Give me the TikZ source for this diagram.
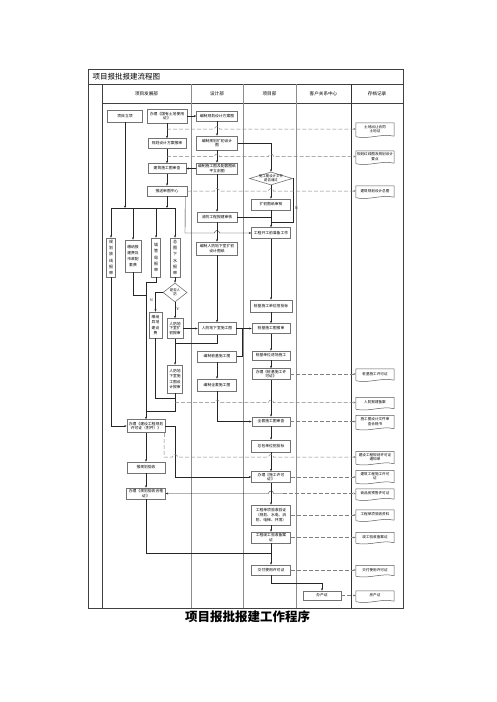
\documentclass[tikz,border=0pt]{standalone}
\usepackage{fontspec}
\newfontfamily\cjk{Noto Sans CJK SC}
\usetikzlibrary{arrows.meta,shapes.geometric}

\begin{document}
\begin{tikzpicture}[x=1pt,y=-1pt,
	box/.style={draw=black!55,line width=0.6pt,fill=white,font=\cjk\fontsize{3.8}{4.6}\selectfont,align=center,inner sep=0.4pt,minimum width=38,minimum height=10},
	vbox/.style={box,minimum width=9,minimum height=39,font=\cjk\fontsize{4}{6.2}\selectfont},
	doc/.style={font=\cjk\fontsize{3.6}{4.4}\selectfont,align=center,inner sep=0.4pt,minimum width=38,minimum height=10},
	docline/.style={draw=black!65,line width=0.5pt},
	diam/.style={diamond,draw=black!55,line width=0.6pt,fill=white,inner sep=0pt,minimum width=43,minimum height=13},
	head/.style={font=\cjk\fontsize{4.6}{5}\selectfont},
	lab/.style={font=\fontsize{3.6}{4}\selectfont,inner sep=0.5pt},
	flow/.style={draw=black!85,line width=0.4pt,-{Stealth[length=2.4pt,width=2pt]}},
	link/.style={draw=black!85,line width=0.4pt},
	rec/.style={draw=black!50,line width=0.5pt,dash pattern=on 4pt off 2pt,-{Stealth[length=2.4pt,width=2pt]}},
	lane/.style={draw=black!45,line width=0.7pt}]
		\useasboundingbox (0,0) rectangle (496,702);
		
		\draw[black!75,line width=0.6pt] (88,69) rectangle (403,608);
		\draw[black!75,line width=0.5pt] (88,84) -- (403,84);
		\draw[black!75,line width=0.5pt] (102,103) -- (403,103);
		\draw[black!75,line width=0.5pt] (102,84) -- (102,608);
		\draw[lane] (191,84) -- (191,608);
		\draw[lane] (243,84) -- (243,608);
		\draw[lane] (296,84) -- (296,608);
		\draw[black!80,line width=0.6pt] (351,84) -- (351,608);
		
		\node[anchor=west,font=\cjk\fontsize{7.5}{8}\selectfont] at (89,76.5) (title) {项目报批报建流程图};
		\node[head] at (146.5,94) (h1) {项目发展部};
		\node[head] at (217,94) (h2) {设计部};
		\node[head] at (269.5,94) (h3) {项目部};
		\node[head] at (323.5,94) (h4) {客户关系中心};
		\node[head] at (377,94) (h5) {存档记录};
		\node[font=\cjk\bfseries\fontsize{12.5}{13}\selectfont] at (247.5,617) (caption) {项目报批报建工作程序};
		
		\node[box,minimum width=35,minimum height=12] at (125,116) (p1) {项目立项};
		\node[box,minimum width=40,minimum height=14] at (167,116) (p2) {办理《国有土地使用\\证》};
		\node[box] at (167,143.5) (p3) {规划设计方案报审};
		\node[box] at (167,168.5) (p4) {建筑施工图审查};
		\node[box,minimum width=40] at (167,191) (p5) {报送审图中心};
		\node[box,minimum height=13] at (146,426) (p6) {办理《建设工程规划\\许可证（附件）》};
		\node[box,minimum height=11] at (146,467.5) (p7) {报规划验收};
		\node[box,minimum width=39,minimum height=11] at (146,493.5) (p8) {办理《规划验收合格\\证》};
		
		\node[vbox] at (111,257.5) (v1) {规\\划\\放\\线\\报\\审};
		\node[vbox,minimum width=16,minimum height=32,font=\cjk\fontsize{3.8}{5.8}\selectfont] at (133,256) (v2) {缴纳报\\建费及\\市政配\\套费};
		\node[vbox] at (156,257.5) (v3) {城\\管\\局\\报\\审};
		\node[vbox,minimum width=10] at (175,257.5) (v4) {总\\图\\下\\水\\报\\审};
		\node[diam,minimum width=24,minimum height=19] at (175,292.5) (q2) {};
		\node[lab,font=\cjk\fontsize{3.4}{4}\selectfont,align=center] at (q2) (q2t) {是否人\\防};
		\node[box,minimum width=13,minimum height=26,font=\cjk\fontsize{3.8}{5.6}\selectfont] at (155.5,325) (l1) {缴纳\\异地\\建设\\费};
		\node[box,minimum width=16,minimum height=20] at (175,328.5) (l2) {人防地\\下室扩\\初报审};
		\node[box,minimum width=15,minimum height=28,font=\cjk\fontsize{3.8}{5.4}\selectfont] at (175,379) (l3) {人防地\\下室施\\工图设\\计报审};
		
		\node[box,minimum width=41] at (217,116) (d1) {编制规划设计方案图};
		\node[box,minimum width=41,minimum height=14] at (217,143) (d2) {编制规划扩初设计\\图};
		\node[box,minimum width=41,minimum height=11] at (217,168.5) (d3) {编制施工图及配套图纸\\平立剖图};
		\node[box,minimum width=40] at (217,217) (d4) {消防工程报建审核};
		\node[box,minimum width=41,minimum height=13] at (217,248.5) (d5) {编制人防地下室扩初\\设计图纸};
		\node[box,minimum height=12] at (217,328.5) (d6) {人防地下室施工图};
		\node[box,minimum width=39,minimum height=11] at (217,356.5) (d7) {编制桩基施工图};
		\node[box,minimum width=39,minimum height=12] at (217,385) (d8) {编制全套施工图};
		
		\node[diam] at (271,178.5) (q1) {};
		\node[lab,font=\cjk\fontsize{3.4}{4.2}\selectfont,align=center] at (q1) (q1t) {施工图设计文件\\是否通过};
		\node[box,minimum width=39,minimum height=11] at (271,204.5) (j1) {扩初图纸审核};
		\node[box,minimum width=39,minimum height=11] at (271,233) (j2) {工程开工前准备工作};
		\node[box,minimum width=42,minimum height=12] at (271,306) (j3) {桩基施工单位招投标};
		\node[box] at (271,328.5) (j4) {桩基施工图报审};
		\node[box,minimum height=9] at (271,355.5) (j5) {桩基单位进场施工};
		\node[box,minimum height=11] at (271,374) (j6) {办理《桩基施工许\\可证》};
		\node[box,minimum height=9] at (271,421.5) (j7) {全套施工图审查};
		\node[box,minimum width=39,minimum height=12] at (271,446) (j8) {总包单位招投标};
		\node[box,minimum width=39,minimum height=11] at (271,477) (j9) {办理《施工许可\\证》};
		\node[box,minimum width=39,minimum height=20] at (271,515) (j10) {工程单项验收验证\\（规划、水电、消\\防、电梯、环境）};
		\node[box,minimum width=39,minimum height=11] at (271,537.5) (j11) {工程竣工验收备案\\证};
		\node[box,minimum width=39] at (271,570) (j12) {交付使用许可证};
		\node[box,minimum height=9] at (322,595.5) (c1) {办产证};
		
		\node[doc,minimum height=12] at (375,129) (a1) {土地出让合同\\土地证};
		\node[doc,minimum height=11] at (375,156.5) (a2) {规划红线图及规划设计\\要点};
		\node[doc] at (375,191) (a3) {建筑规划设计总图};
		\node[doc] at (375,374) (a4) {桩基施工许可证};
		\node[doc] at (375,402.5) (a5) {人防报建备案};
		\node[doc,minimum height=12] at (375,421.5) (a6) {施工图设计文件审\\查合格书};
		\node[doc,minimum height=11] at (375,457) (a7) {建设工程规划许可证\\通知单};
		\node[doc,minimum height=11] at (375,476) (a8) {建筑工程施工许可\\证};
		\node[doc,minimum height=9] at (375,493.5) (a9) {商品房预售许可证};
		\node[doc,minimum height=9] at (375,514.5) (a10) {工程单项验收资料};
		\node[doc,minimum height=9] at (375,537) (a11) {竣工验收备案证};
		\node[doc,minimum height=9] at (375,570) (a12) {交付使用许可证};
		\node[doc,minimum height=9] at (375,595.5) (a13) {房产证};
		
		\foreach \i in {1,...,13}
			\draw[docline] ([yshift=-1.5pt]a\i.south west) -- (a\i.north west) -- (a\i.north east) -- ([yshift=-1pt]a\i.south east) .. controls +(-13pt,3pt) and +(13pt,-3pt) .. ([yshift=-1.5pt]a\i.south west);
		
		\draw[flow] (p2) -- (d1);
		\draw[flow] (p2) -- (p3);
		\draw[flow] (p3) -- (p4);
		\draw[flow] (p4) -- (p5);
		\draw[flow] (d1) -- (d2);
		\draw[flow] (d2) -- (d3);
		\draw[flow] (d3) -- (p4);
		\draw[flow] (d3) -- (d4);
		\draw[flow] (d2.east) -| (q1.north);
		\draw[flow] (q1) -- (j1);
		\draw[link] (q1.east) -| (293,222) -- (271,222);
		\node[lab] at (296.5,208) (ln) {N};
		\draw[link] (d4.east) -- (271,217);
		\draw[flow] (j1) -- (j2);
		\draw[flow] ([xshift=-2pt]p5.south east) -- (185,233) -- (214.5,233) arc[start angle=180,end angle=0,radius=2.5pt] -- (j2.west);
		\draw[flow] (d4) -- (d5);
		
		\draw[flow] (p1) -- (125,208);
		\draw[flow] (p5) -- (167,208);
		\draw[link] (111,208) -- (175,208);
		\foreach \v/\x in {v1/111,v2/133,v3/156,v4/175}
			\draw[flow] (\x,208) -- (\v.north);
		\draw[flow] (v4) -- (q2);
		\draw[flow] (q2.west) -| (l1.north);
		\node[lab] at (151.5,300) (lq2n) {N};
		\draw[flow] (q2) -- (l2);
		\node[lab] at (178,309.5) (lq2y) {Y};
		\draw[flow] (l2) -- (d6);
		\draw[flow] (d5) -- (d6);
		\draw[flow] (l2) -- (l3);
		\draw[link] (d6.south) |- (175,343);
		\draw[link] (l1.south) |- (175,398);
		\draw[link] (l3.south) -- (175,411) -- (146,411);
		\draw[link] (v2.south) |- (146,295);
		\draw[link] (v3.south) -- (156,282) -- (146,282);
		\draw[flow] (146,282) -- (p6.north);
		\draw[flow] (v1.south) |- (p6.west);
		\draw[flow] (p6) -- (p7);
		\draw[flow] (p7) -- (p8);
		\draw[flow] (p6.east) -| (175,477) -- (j9.west);
		\draw[link] (p8.south) |- (271,553);
		
		\draw[flow] (j2) -- (j3);
		\draw[flow] (j3) -- (j4);
		\draw[flow] (d6) -- (j4);
		\draw[link] (d7.east) -- (242,356.5) -- (242,328.5);
		\draw[flow] (d7) -- (d8);
		\draw[flow] (j4) -- (j5);
		\draw[flow] (j5) -- (j6);
		\draw[flow] (j6) -- (j7);
		\draw[flow] (d8.south) |- (j7.west);
		\draw[flow] (j7) -- (j8);
		\draw[flow] (j8) -- (j9);
		\draw[flow] (j9) -- (j10);
		\draw[flow] (j10) -- (j11);
		\draw[flow] (j11) -- (j12);
		\draw[flow] (j12.south) -- (271,583) -| (c1.north);
		\coordinate (sale) at (283,493.5);
		\draw[flow] (sale) -- (273.5,493.5) arc[start angle=0,end angle=180,radius=2.5pt] -- (p8.east);
		
		\draw[rec] (167,129) -- (214.5,129) arc[start angle=180,end angle=0,radius=2.5pt] -- (a1.west);
		\draw[rec] (167,156.5) -- (214.5,156.5) arc[start angle=180,end angle=0,radius=2.5pt] -- (268.5,156.5) arc[start angle=180,end angle=0,radius=2.5pt] -- (a2.west);
		\draw[rec] (p5.east) -- (214.5,191) arc[start angle=180,end angle=0,radius=2.5pt] -- (268.5,191) arc[start angle=180,end angle=0,radius=2.5pt] -- (a3.west);
		\draw[rec] (j6) -- (a4);
		\draw[rec] (175,402.5) -- (214.5,402.5) arc[start angle=180,end angle=0,radius=2.5pt] -- (268.5,402.5) arc[start angle=180,end angle=0,radius=2.5pt] -- (a5.west);
		\draw[rec] (j7) -- (a6);
		\draw[rec] ([xshift=-1pt]p6.south east) -- (164,457) -- (172.5,457) arc[start angle=180,end angle=0,radius=2.5pt] -- (268.5,457) arc[start angle=180,end angle=0,radius=2.5pt] -- (a7.west);
		\draw[rec] (j9.east) -- (a8.west |- j9.east);
		\draw[rec] (sale) -- (a9.west);
		\draw[rec] (j10) -- (a10.west |- j10.east);
		\draw[rec] (j11) -- (a11.west |- j11.east);
		\draw[rec] (j12) -- (a12);
		\draw[rec] (c1) -- (a13);
		\end{tikzpicture}
\end{document}
